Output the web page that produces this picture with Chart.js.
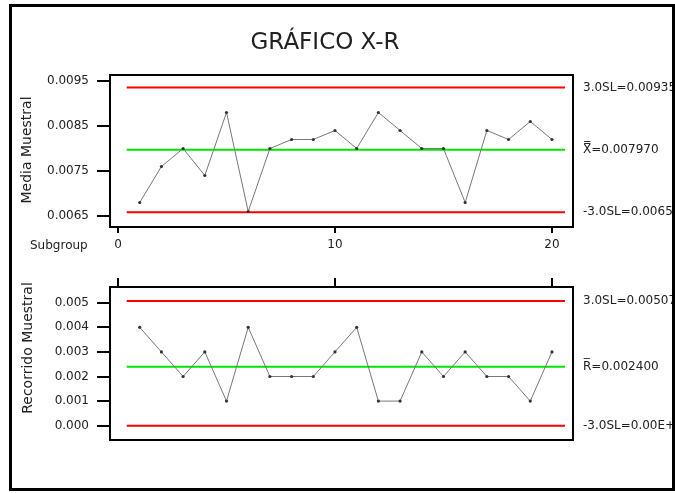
<!DOCTYPE html>
<html>
<head>
<meta charset="utf-8">
<script src="https://cdn.jsdelivr.net/npm/chart.js@4"></script>
<style>
  body { margin: 0; background: #fff; }
  #wrap { position: relative; width: 675px; height: 493px; overflow: hidden; }
  canvas { position: absolute; left: 0; }
  #c1 { top: 0; }
  #c2 { top: 260px; }
  #frame {
    position: absolute; left: 9px; top: 4px; width: 666px; height: 487px;
    border: 3px solid #000; box-sizing: border-box; pointer-events: none;
  }
</style>
</head>
<body>
<div id="wrap">
  <canvas id="c1" width="675" height="260"></canvas>
  <canvas id="c2" width="675" height="233"></canvas>
  <div id="frame"></div>
</div>
<script>
// datos
const subgroups = [1, 2, 3, 4, 5, 6, 7, 8, 9, 10, 11, 12, 13, 14, 15, 16, 17, 18, 19, 20];
const xbarValues = [0.0068, 0.0076, 0.0080, 0.0074, 0.0088, 0.0066, 0.0080, 0.0082, 0.0082, 0.0084,
                    0.0080, 0.0088, 0.0084, 0.0080, 0.0080, 0.0068, 0.0084, 0.0082, 0.0086, 0.0082];
const rangeValues = [0.004, 0.003, 0.002, 0.003, 0.001, 0.004, 0.002, 0.002, 0.002, 0.003,
                     0.004, 0.001, 0.001, 0.003, 0.002, 0.003, 0.002, 0.002, 0.001, 0.003];
const xbarLimits = [0.009355, 0.007970, 0.006585];   // LSC, media, LIC
const rangeLimits = [0.005071, 0.002400, 0];
const xbarLimitLabels = ['3.0SL=0.009355', 'X\u033F=0.007970', '-3.0SL=0.006585'];
const rangeLimitLabels = ['3.0SL=0.005071', 'R\u0305=0.002400', '-3.0SL=0.00E+00'];
const limitSpan = [0.4, 20.6];
const subgroupTicks = [0, 10, 20];
const xbarTicks = [0.0065, 0.0075, 0.0085, 0.0095];
const rangeTicks = [0, 0.001, 0.002, 0.003, 0.004, 0.005];

Chart.defaults.font.family = '"DejaVu Sans", sans-serif';
Chart.defaults.color = '#222';

const limitColors = ['#ff0000', '#00e600', '#ff0000'];

function buildDatasets(values, limits) {
  const sets = [{
    data: subgroups.map((s, i) => ({ x: s, y: values[i] })),
    borderColor: '#777',
    borderWidth: 1,
    pointRadius: 1.6,
    pointBackgroundColor: '#333',
    pointBorderColor: '#333',
    pointBorderWidth: 0
  }];
  limits.forEach((v, i) => {
    sets.push({
      data: limitSpan.map(x => ({ x: x, y: v })),
      borderColor: limitColors[i],
      borderWidth: 2,
      pointRadius: 0
    });
  });
  return sets;
}

// caja, etiquetas de límites y textos sueltos
const extras = {
  id: 'extras',
  afterDraw(chart, args, opts) {
    const { ctx, chartArea: a, scales } = chart;
    ctx.save();
    ctx.strokeStyle = '#000';
    ctx.lineWidth = 2;
    ctx.strokeRect(a.left, a.top, a.width, a.height);

    ctx.fillStyle = '#222';
    ctx.font = '12px "DejaVu Sans"';
    ctx.textAlign = 'left';
    ctx.textBaseline = 'middle';
    opts.limits.forEach((v, i) => {
      ctx.fillText(opts.labels[i], a.right + 10, scales.y.getPixelForValue(v));
    });

    (opts.texts || []).forEach(t => {
      ctx.save();
      ctx.font = t.font;
      ctx.textAlign = t.align || 'center';
      ctx.translate(t.x, t.y);
      if (t.rotate) ctx.rotate(-Math.PI / 2);
      ctx.fillText(t.text, 0, 0);
      ctx.restore();
    });
    ctx.restore();
  }
};

function makeChart(id, values, limits, labels, yTicks, decimals, xPos, texts, padding) {
  return new Chart(document.getElementById(id), {
    type: 'line',
    data: { datasets: buildDatasets(values, limits) },
    plugins: [extras],
    options: {
      responsive: false,
      animation: false,
      layout: { padding: padding },
      plugins: {
        legend: { display: false },
        tooltip: { enabled: false },
        extras: { limits: limits, labels: labels, texts: texts }
      },
      scales: {
        x: {
          type: 'linear',
          position: xPos,
          min: -0.37,
          max: 20.97,
          afterBuildTicks: s => { s.ticks = subgroupTicks.map(v => ({ value: v })); },
          afterFit: s => { s.height = xPos === 'bottom' ? 33 : 27; },
          grid: { drawOnChartArea: false, drawTicks: true, tickLength: xPos === 'bottom' ? 6 : 9, color: '#000', lineWidth: 2 },
          border: { display: true, color: '#000', width: 2 },
          ticks: { display: xPos === 'bottom', padding: 5, font: { size: 12 }, color: '#222', maxRotation: 0 }
        },
        y: {
          type: 'linear',
          min: yTicks === xbarTicks ? 0.006256 : -0.000581,
          max: yTicks === xbarTicks ? 0.009633 : 0.005638,
          afterBuildTicks: s => { s.ticks = yTicks.map(v => ({ value: v })); },
          afterFit: s => { s.width = 110; },
          grid: { drawOnChartArea: false, drawTicks: true, tickLength: 13, color: '#000', lineWidth: 2 },
          border: { display: true, color: '#000', width: 2 },
          ticks: { padding: 8, font: { size: 12 }, color: '#222', callback: v => Number(v).toFixed(decimals) }
        }
      }
    }
  });
}

makeChart('c1', xbarValues, xbarLimits, xbarLimitLabels, xbarTicks, 4, 'bottom', [
  { text: 'GRÁFICO X-R', x: 325, y: 43, font: '23px "DejaVu Sans"' },
  { text: 'Subgroup', x: 30, y: 246, font: '12px "DejaVu Sans"', align: 'left' },
  { text: 'Media Muestral', x: 27, y: 150, font: '14px "DejaVu Sans"', rotate: true }
], { top: 75, right: 102, bottom: 0, left: 0 });

makeChart('c2', rangeValues, rangeLimits, rangeLimitLabels, rangeTicks, 3, 'top', [
  { text: 'Recorrido Muestral', x: 28, y: 88, font: '14px "DejaVu Sans"', rotate: true }
], { top: 0, right: 102, bottom: 53, left: 0 });
</script>
</body>
</html>
